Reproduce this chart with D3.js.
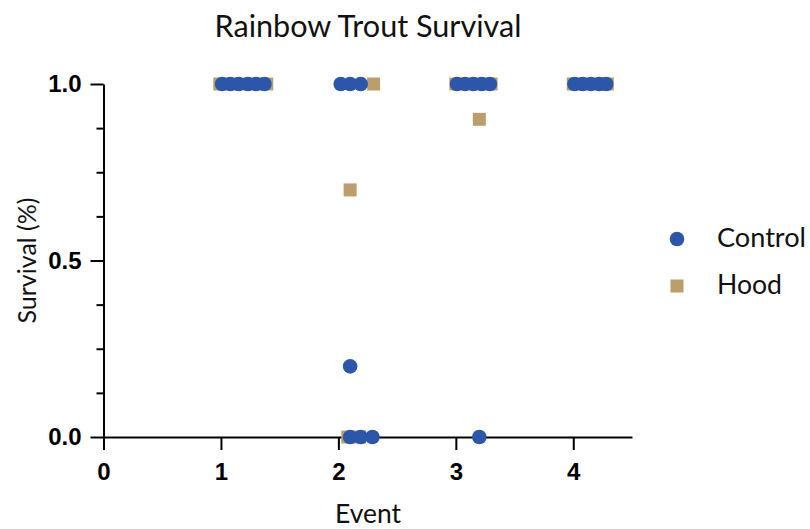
<!DOCTYPE html>
<html><head><meta charset="utf-8">
<script src="https://cdn.jsdelivr.net/npm/d3@7"></script>
<style>body{margin:0;background:#fff}</style>
</head><body>
<svg id="c" width="810" height="529"></svg>
<script>
const titleText = "Rainbow Trout Survival";
const xLabel = "Event";
const yLabel = "Survival (%)";
const seriesNames = ["Control", "Hood"];
const xTicks = [0, 1, 2, 3, 4];
const yTicks = [0, 0.5, 1];
const yMinorTicks = [0.125, 0.25, 0.375, 0.625, 0.75, 0.875];

const controlX = [1.01,1.08,1.15,1.23,1.30,1.37, 2.02,2.10,2.19, 2.10, 2.10,2.19,2.29, 3.01,3.08,3.15,3.22,3.29, 3.20, 4.01,4.08,4.15,4.22,4.28];
const controlY = [1,1,1,1,1,1, 1,1,1, 0.2, 0,0,0, 1,1,1,1,1, 0, 1,1,1,1,1];
const hoodX = [0.99,1.09,1.19,1.29,1.39, 2.30, 2.10, 2.08,2.18, 3.00,3.10,3.20,3.30, 3.20, 4.00,4.10,4.20,4.29];
const hoodY = [1,1,1,1,1, 1, 0.7, 0,0, 1,1,1,1, 0.9, 1,1,1,1];

const blue = "#2b56aa", tan = "#bc9e6d";
const svg = d3.select("#c");
const x = d3.scaleLinear().domain([0, 4.5]).range([103.5, 632]);
const y = d3.scaleLinear().domain([0, 1]).range([437, 84]);

const font = "Lato, 'Open Sans', sans-serif";
function fit(sel, w){ const n=sel.node(); let fs=parseFloat(sel.attr("font-size")); const l=n.getComputedTextLength(); sel.attr("font-size", fs*w/l); }

// axes
const gx = svg.append("g").attr("transform", `translate(0,${y(0)})`)
  .call(d3.axisBottom(x).tickValues(xTicks).tickSize(13).tickPadding(13).tickSizeOuter(0).tickFormat(d3.format("d")));
const gy = svg.append("g").attr("transform", `translate(${x(0)},0)`)
  .call(d3.axisLeft(y).tickValues(yTicks).tickSize(13).tickPadding(9).tickSizeOuter(0).tickFormat(d3.format(".1f")));
const gym = svg.append("g").attr("transform", `translate(${x(0)},0)`)
  .call(d3.axisLeft(y).tickValues(yMinorTicks).tickSize(7).tickFormat(""));
gym.select(".domain").remove();
[gx, gy, gym].forEach(g => {
  g.selectAll("path,line").attr("stroke", "#000").attr("stroke-width", 2);
  g.selectAll("text").attr("font-family", "'Liberation Sans', Arial, sans-serif").attr("font-weight", "bold").attr("font-size", 24).attr("fill", "#000");
});

// points
svg.append("g").selectAll("rect").data(hoodX.map((d,i)=>[d,hoodY[i]])).join("rect")
  .attr("x", d => x(d[0]) - 6.5).attr("y", d => y(d[1]) - 6.5).attr("width", 13).attr("height", 13).attr("fill", tan);
svg.append("g").selectAll("circle").data(controlX.map((d,i)=>[d,controlY[i]])).join("circle")
  .attr("cx", d => x(d[0])).attr("cy", d => y(d[1])).attr("r", 7.3).attr("fill", blue);

// title and labels
const t = svg.append("text").attr("x", 368).attr("y", 37).attr("text-anchor", "middle").attr("font-family", font).attr("font-size", 30).attr("fill", "#111").text(titleText);
fit(t, 307);
const ex = svg.append("text").attr("x", 368).attr("y", 523).attr("text-anchor", "middle").attr("font-family", font).attr("font-size", 23).attr("fill", "#111").text(xLabel);
fit(ex, 66);
const ey = svg.append("text").attr("transform", `translate(36,${(y(0)+y(1))/2}) rotate(-90)`).attr("text-anchor", "middle").attr("font-family", font).attr("font-size", 23).attr("fill", "#111").text(yLabel);
fit(ey, 126);

// legend
const lg = svg.append("g");
lg.append("circle").attr("cx", 677).attr("cy", 239).attr("r", 7.3).attr("fill", blue);
lg.append("rect").attr("x", 677-6.5).attr("y", 286-6.5).attr("width", 13).attr("height", 13).attr("fill", tan);
const l1 = lg.append("text").attr("x", 717).attr("y", 247).attr("font-family", font).attr("font-size", 26).attr("fill", "#111").text(seriesNames[0]);
fit(l1, 89);
const l2 = lg.append("text").attr("x", 717).attr("y", 294).attr("font-family", font).attr("font-size", 26).attr("fill", "#111").text(seriesNames[1]);
fit(l2, 65);
</script>
</body></html>
